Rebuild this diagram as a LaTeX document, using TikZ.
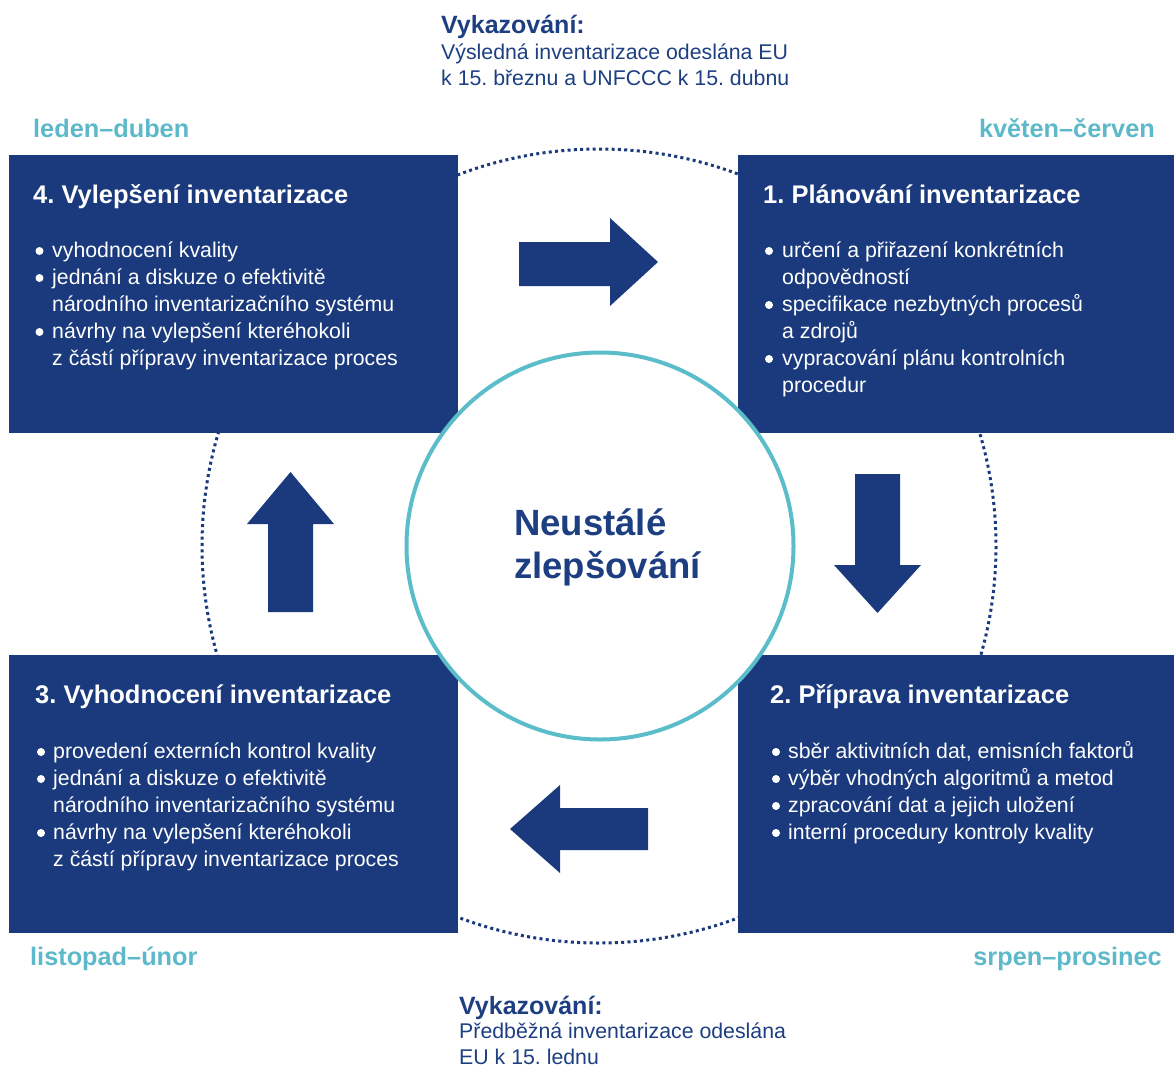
\documentclass[tikz,border=0pt]{standalone}
\usepackage{fontspec}
\setmainfont{Liberation Sans}
\frenchspacing
\definecolor{navy}{HTML}{1A3A7D}
\definecolor{navytext}{HTML}{1D3F82}
\definecolor{tealc}{HTML}{5CBDCA}
\definecolor{seasonc}{HTML}{5DB9C9}
\newcommand\myline[1]{\hbox{#1}}
\tikzset{
  boxnode/.style={fill=navy, draw=none, inner sep=0, anchor=north west},
  titletxt/.style={anchor=base west, inner sep=0, text=white, font=\frenchspacing\fontsize{25.5}{30}\selectfont\bfseries},
  bodytxt/.style={anchor=base west, inner sep=0, text=white, font=\frenchspacing\fontsize{21.3}{27}\selectfont},
  season/.style={inner sep=0, text=seasonc, font=\fontsize{25.3}{30}\selectfont\bfseries},
  rephead/.style={anchor=base west, inner sep=0, text=navytext, font=\fontsize{25}{30}\selectfont\bfseries},
  repbody/.style={anchor=base west, inner sep=0, text=navytext, font=\frenchspacing\fontsize{21.3}{26.5}\selectfont},
  blockarrow/.style={fill=navy, draw=none},
  dotring/.style={draw=navy, line width=3pt, dash pattern=on 3pt off 3.3pt},
  bulletdot/.style={fill=white},
}
\begin{document}
\begin{tikzpicture}[x=1pt,y=-1pt]
\useasboundingbox (0,0) rectangle (1174,1068);
% dotted ring
\draw[dotring] (599,546) circle[radius=397];
% boxes
\node[boxnode, minimum width=449pt, minimum height=278pt] (b4) at (9,155) {};
\node[boxnode, minimum width=436pt, minimum height=278pt] (b1) at (738,155) {};
\node[boxnode, minimum width=449pt, minimum height=278pt] (b3) at (9,655) {};
\node[boxnode, minimum width=436pt, minimum height=278pt] (b2) at (738,655) {};
% centre circle
\node[circle, draw=tealc, line width=4pt, fill=white, minimum size=387pt, inner sep=0] (c) at (600,546) {};
\node[anchor=base west, inner sep=0, text=navytext, font=\fontsize{36.5}{43}\selectfont\bfseries] (ctext) at (514,535)
  {\vtop{\hbox{Neustálé}\hbox{zlepšování}}};
% titles
\node[titletxt] (t4) at (33,203) {4. Vylepšení inventarizace};
\node[titletxt] (t1) at (763,203) {1. Plánování inventarizace};
\node[titletxt] (t3) at (35,703) {3. Vyhodnocení inventarizace};
\node[titletxt] (t2) at (770,703) {2. Příprava inventarizace};
% bullets
\foreach \y in {251,278,332} \fill[bulletdot] (39.5,\y) circle[radius=4];
\foreach \y in {251,305,359} \fill[bulletdot] (769,\y) circle[radius=4];
\foreach \y in {752,779,833} \fill[bulletdot] (41,\y) circle[radius=4];
\foreach \y in {752,779,806,833} \fill[bulletdot] (776,\y) circle[radius=4];
% bodies
\node[bodytxt] (l4) at (52,257) {\vtop{%
  \myline{vyhodnocení kvality}
  \myline{jednání a diskuze o efektivitě}
  \myline{národního inventarizačního systému}
  \myline{návrhy na vylepšení kteréhokoli}
  \myline{z částí přípravy inventarizace proces}}};
\node[bodytxt] (l1) at (782,257) {\vtop{%
  \myline{určení a přiřazení konkrétních}
  \myline{odpovědností}
  \myline{specifikace nezbytných procesů}
  \myline{a zdrojů}
  \myline{vypracování plánu kontrolních}
  \myline{procedur}}};
\node[bodytxt] (l3) at (53,758) {\vtop{%
  \myline{provedení externích kontrol kvality}
  \myline{jednání a diskuze o efektivitě}
  \myline{národního inventarizačního systému}
  \myline{návrhy na vylepšení kteréhokoli}
  \myline{z částí přípravy inventarizace proces}}};
\node[bodytxt] (l2) at (788,758) {\vtop{%
  \myline{sběr aktivitních dat, emisních faktorů}
  \myline{výběr vhodných algoritmů a metod}
  \myline{zpracování dat a jejich uložení}
  \myline{interní procedury kontroly kvality}}};
% season labels
\node[season, anchor=base west] (s4) at (33,137) {leden–duben};
\node[season, anchor=base east] (s1) at (1155,137) {květen–červen};
\node[season, anchor=base west] (s3) at (30,965) {listopad–únor};
\node[season, anchor=base east] (s2) at (1162,965) {srpen–prosinec};
% reporting texts
\node[rephead] (rt) at (441,33) {Vykazování:};
\node[repbody] (rtb) at (441,59) {\vtop{\hbox{Výsledná inventarizace odeslána EU}\hbox{k 15. březnu a UNFCCC k 15. dubnu}}};
\node[rephead] (rb) at (459,1014) {Vykazování:};
\node[repbody] (rbb) at (459,1038) {\vtop{\hbox{Předběžná inventarizace odeslána}\hbox{EU k 15. lednu}}};
% block arrows
\fill[blockarrow] (519,242) -- (610,242) -- (610,218) -- (658,262) -- (610,306) -- (610,286) -- (519,286) -- cycle;
\fill[blockarrow] (855,474) -- (900,474) -- (900,565) -- (921,565) -- (877.5,613) -- (834,565) -- (855,565) -- cycle;
\fill[blockarrow] (648,808) -- (648,850) -- (560,850) -- (560,873) -- (510,829) -- (560,785) -- (560,808) -- cycle;
\fill[blockarrow] (268,612) -- (313,612) -- (313,524) -- (334,524) -- (290.5,472) -- (247,524) -- (268,524) -- cycle;
\end{tikzpicture}
\end{document}
